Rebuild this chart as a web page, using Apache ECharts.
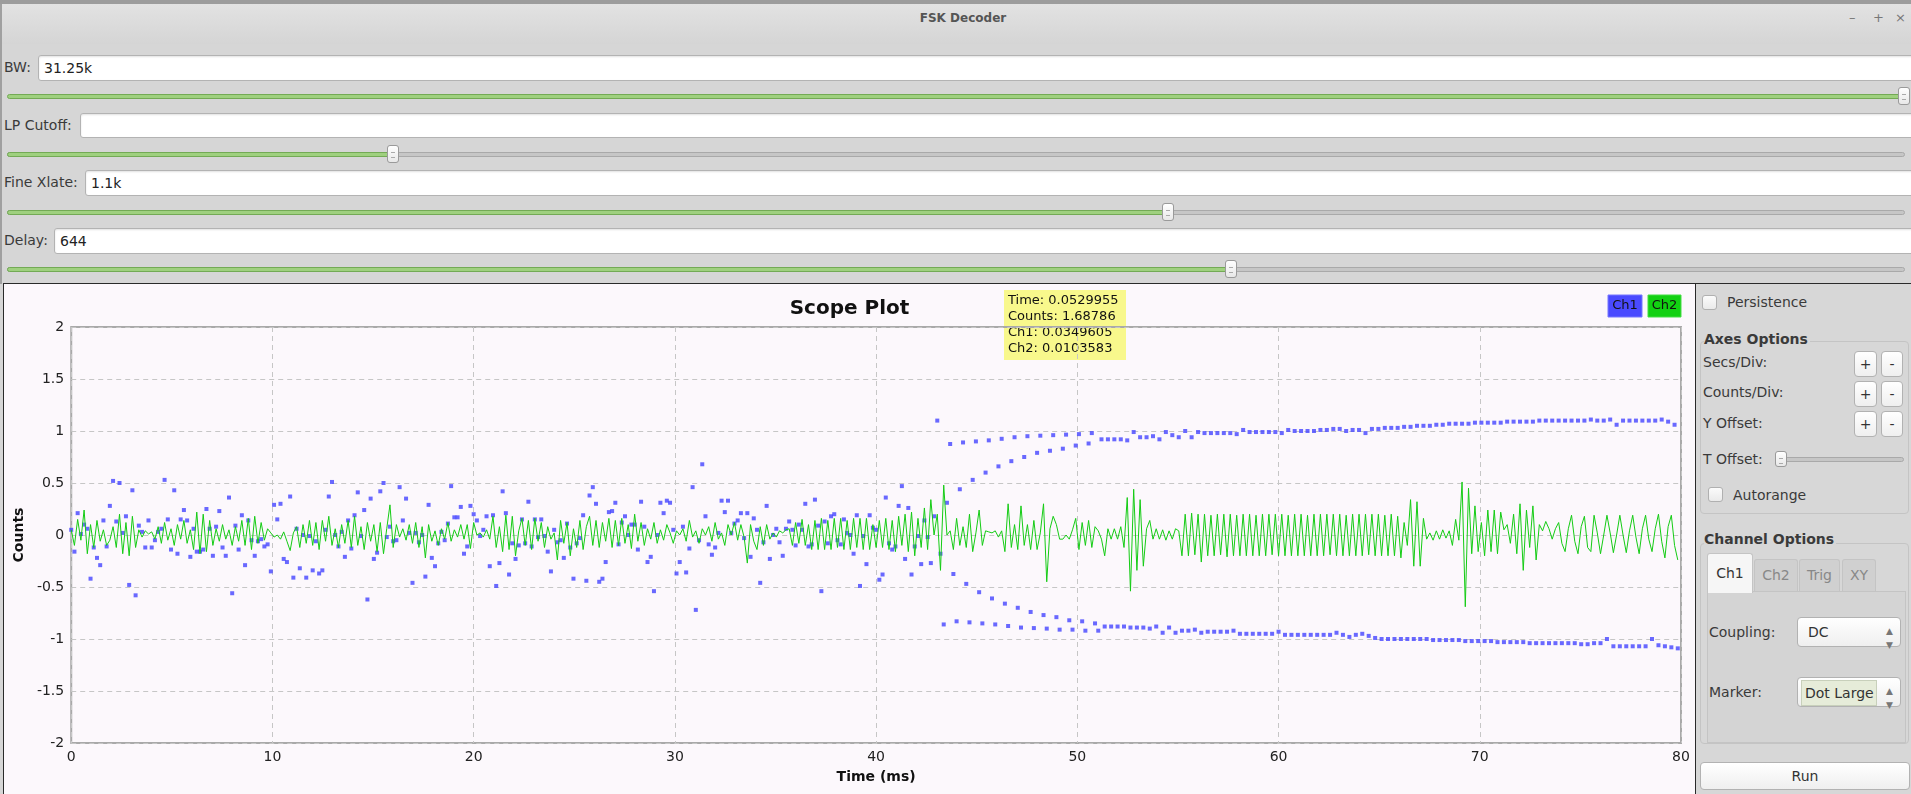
<!DOCTYPE html>
<html>
<head>
<meta charset="utf-8">
<script src="https://cdn.jsdelivr.net/npm/echarts@6/dist/echarts.min.js"></script>
<style>
html,body{margin:0;padding:0}
body{width:1911px;height:794px;overflow:hidden;position:relative;background:#d6d6d6;font-family:"DejaVu Sans",sans-serif;color:#3a3a3a}
.a{position:absolute}
.lbl{position:absolute;font-size:14px;line-height:16px;white-space:nowrap;color:#3a3a3a}
.box{position:absolute;background:#fff;border:1px solid #b3b3b3;border-radius:3px;box-shadow:inset 0 1px 2px rgba(0,0,0,.12);box-sizing:border-box;font-size:14px;color:#222;padding-left:5px;white-space:nowrap}
.trk{position:absolute;height:5px;border-radius:3px;box-sizing:border-box}
.tg{background:#9fd07f;border:1px solid #73aa55}
.tr{background:#c6c6c6;border:1px solid #a9a9a9}
.hdl{position:absolute;width:12px;height:18px;box-sizing:border-box;border:1px solid #9a9a9a;border-radius:3px;background:linear-gradient(#ffffff,#e8e8e8)}
.hdl:after{content:"";position:absolute;left:3px;top:6px;width:4px;height:4px;border-top:1px solid #aaa;border-bottom:1px solid #aaa}
.btn{position:absolute;box-sizing:border-box;border:1px solid #b2b2b2;border-radius:4px;background:linear-gradient(#ffffff,#efefef);font-size:14px;color:#333;text-align:center}
.chk{position:absolute;width:15px;height:15px;box-sizing:border-box;border:1px solid #b0b0b0;border-radius:3px;background:linear-gradient(#fbfbfb,#eaeaea)}
.grp{position:absolute;box-sizing:border-box;border:1px solid #c4c4c4;border-radius:4px}
.tab{position:absolute;box-sizing:border-box;border:1px solid #c4c4c4;border-bottom:none;border-radius:3px 3px 0 0;font-size:14px;text-align:center;color:#888;background:#d0d0d0}
</style>
</head>
<body>
<!-- window title bar -->
<div class="a" style="left:0;top:0;width:1911px;height:4px;background:#9c9c9c"></div>
<div class="a" style="left:0;top:4px;width:1911px;height:40px;background:linear-gradient(#e2e2e2,#d5d5d5)"></div>
<div class="lbl" style="left:0;width:1926px;top:10px;text-align:center;font-size:12px;font-weight:bold;color:#555">FSK Decoder</div>
<div class="lbl" style="left:1849px;top:10px;font-size:13px;color:#777">–</div>
<div class="lbl" style="left:1873px;top:10px;font-size:13px;color:#777">+</div>
<div class="lbl" style="left:1895px;top:10px;font-size:13px;color:#777">×</div>
<div class="a" style="left:0;top:4px;width:2px;height:280px;background:#a0a0a0"></div>

<!-- parameter rows -->
<div class="lbl" style="left:4px;top:59px">BW:</div>
<div class="box" style="left:38px;top:55px;width:1880px;height:26px;line-height:24px">31.25k</div>
<div class="trk tg" style="left:7px;top:94px;width:1898px"></div>
<div class="hdl" style="left:1898px;top:87px"></div>

<div class="lbl" style="left:4px;top:117px">LP Cutoff:</div>
<div class="box" style="left:80px;top:113px;width:1840px;height:25px;line-height:23px"></div>
<div class="trk tr" style="left:7px;top:152px;width:1898px"></div>
<div class="trk tg" style="left:7px;top:152px;width:388px"></div>
<div class="hdl" style="left:387px;top:145px"></div>

<div class="lbl" style="left:4px;top:174px">Fine Xlate:</div>
<div class="box" style="left:85px;top:170px;width:1840px;height:26px;line-height:24px">1.1k</div>
<div class="trk tr" style="left:7px;top:210px;width:1898px"></div>
<div class="trk tg" style="left:7px;top:210px;width:1163px"></div>
<div class="hdl" style="left:1162px;top:203px"></div>

<div class="lbl" style="left:4px;top:232px">Delay:</div>
<div class="box" style="left:54px;top:228px;width:1870px;height:26px;line-height:24px">644</div>
<div class="trk tr" style="left:7px;top:267px;width:1898px"></div>
<div class="trk tg" style="left:7px;top:267px;width:1226px"></div>
<div class="hdl" style="left:1225px;top:260px"></div>

<!-- plot widget -->
<div class="a" style="left:3px;top:283px;width:1693px;height:520px;box-sizing:border-box;border:1px solid #2a2a2a;background:#fcf8fc"></div>
<div id="chart" class="a" style="left:4px;top:285px;width:1691px;height:509px"></div>

<!-- right control panel -->
<div class="a" style="left:1696px;top:283px;width:215px;height:511px;background:#d7d7d7;border-top:1px solid #2a2a2a"></div>
<div class="chk" style="left:1702px;top:295px"></div>
<div class="lbl" style="left:1727px;top:294px">Persistence</div>

<div class="grp" style="left:1700px;top:341px;width:209px;height:173px"></div>
<div class="lbl" style="left:1704px;top:331px;font-weight:bold;background:#d7d7d7;padding-right:2px">Axes Options</div>
<div class="lbl" style="left:1703px;top:354px">Secs/Div:</div>
<div class="btn" style="left:1854px;top:351px;width:23px;height:26px;line-height:24px">+</div>
<div class="btn" style="left:1881px;top:351px;width:22px;height:26px;line-height:24px">-</div>
<div class="lbl" style="left:1703px;top:384px">Counts/Div:</div>
<div class="btn" style="left:1854px;top:381px;width:23px;height:26px;line-height:24px">+</div>
<div class="btn" style="left:1881px;top:381px;width:22px;height:26px;line-height:24px">-</div>
<div class="lbl" style="left:1703px;top:415px">Y Offset:</div>
<div class="btn" style="left:1854px;top:411px;width:23px;height:26px;line-height:24px">+</div>
<div class="btn" style="left:1881px;top:411px;width:22px;height:26px;line-height:24px">-</div>
<div class="lbl" style="left:1703px;top:451px">T Offset:</div>
<div class="trk tr" style="left:1776px;top:457px;width:128px;height:5px"></div>
<div class="hdl" style="left:1775px;top:451px;width:12px;height:16px"></div>
<div class="chk" style="left:1708px;top:487px"></div>
<div class="lbl" style="left:1733px;top:487px">Autorange</div>

<div class="grp" style="left:1700px;top:543px;width:209px;height:201px"></div>
<div class="lbl" style="left:1704px;top:531px;font-weight:bold;background:#d7d7d7;padding-right:2px">Channel Options</div>
<div class="a" style="left:1707px;top:591px;width:199px;height:152px;box-sizing:border-box;border:1px solid #c4c4c4;background:#d4d4d4"></div>
<div class="tab" style="left:1707px;top:553px;width:46px;height:40px;line-height:38px;background:#f6f6f6;color:#333;z-index:2">Ch1</div>
<div class="tab" style="left:1754px;top:559px;width:44px;height:32px;line-height:30px">Ch2</div>
<div class="tab" style="left:1799px;top:559px;width:41px;height:32px;line-height:30px">Trig</div>
<div class="tab" style="left:1842px;top:559px;width:34px;height:32px;line-height:30px">XY</div>
<div class="lbl" style="left:1709px;top:624px">Coupling:</div>
<div class="btn" style="left:1797px;top:617px;width:104px;height:30px;line-height:28px;text-align:left;padding-left:10px">DC<span class="a" style="left:88px;font-size:9px;line-height:14px;color:#777;top:6px">▲<br>▼</span></div>
<div class="lbl" style="left:1709px;top:684px">Marker:</div>
<div class="btn" style="left:1797px;top:677px;width:104px;height:30px;line-height:28px;text-align:left;padding-left:3px"><span style="display:inline-block;background:#e6ecd9;border:1px solid #c8d0bb;line-height:24px;padding:0 3px;width:68px;overflow:hidden;white-space:nowrap;vertical-align:middle">Dot Large</span><span class="a" style="left:88px;font-size:9px;line-height:14px;color:#777;top:6px">▲<br>▼</span></div>
<div class="btn" style="left:1700px;top:762px;width:210px;height:28px;line-height:26px">Run</div>

<script>
// ---------------- data ----------------
const plotTitle = 'Scope Plot';
const xAxisName = 'Time (ms)';
const yAxisName = 'Counts';
const timeRange = [0, 80];      // ms
const timeStep = 10;
const countRange = [-2, 2];
const countStep = 0.5;
const SAMPLE_MS = 0.16;         // sample period of both channels (ms)
const channelNames = ['Ch1', 'Ch2'];
const cursorInfo = ['Time: 0.0529955', 'Counts: 1.68786', 'Ch1: 0.0349605', 'Ch2: 0.0103583'];

// Ch1 (blue dots), one value per sample
const ch1Counts = [
  0.05,-0.16,0.21,0.01,0.10,0.06,-0.42,-0.12,-0.22,-0.29,
  0.14,-0.11,0.28,0.52,0.13,0.50,0.02,0.18,-0.48,0.43,
  -0.58,0.09,0.03,-0.12,0.14,-0.12,-0.05,0.03,0.06,0.53,
  0.15,-0.14,0.43,-0.18,0.15,0.24,0.14,-0.21,0.06,-0.16,
  -0.16,-0.14,0.25,0.06,-0.20,0.08,0.23,-0.12,-0.20,0.36,
  -0.56,0.09,-0.14,0.19,-0.29,0.14,-0.05,-0.20,-0.06,-0.04,
  -0.11,-0.09,-0.35,0.29,0.15,0.30,-0.23,-0.26,0.37,-0.41,
  0.06,-0.32,0.00,-0.41,-0.01,-0.34,-0.06,-0.37,-0.34,0.05,
  0.37,0.51,0.00,-0.11,0.03,-0.21,0.14,-0.13,0.19,0.41,
  -0.01,0.24,-0.62,0.35,-0.23,-0.17,0.42,0.50,-0.02,0.08,
  -0.06,-0.05,0.46,0.14,0.35,0.02,-0.46,0.02,-0.07,0.00,
  -0.40,0.29,-0.22,-0.30,-0.08,0.03,-0.05,0.11,0.47,0.17,
  0.17,0.27,-0.18,-0.11,0.28,0.20,0.14,-0.01,0.05,0.18,
  -0.30,0.19,-0.49,-0.27,0.42,0.21,-0.38,-0.08,-0.23,-0.10,
  0.15,-0.08,0.32,-0.11,0.15,-0.02,0.15,-0.01,-0.16,-0.35,
  0.05,-0.07,-0.05,-0.22,0.11,-0.12,-0.42,-0.08,-0.03,0.19,
  -0.44,0.38,0.46,0.30,-0.45,-0.42,-0.26,0.22,0.23,0.31,
  -0.09,0.12,0.18,0.00,0.10,0.10,-0.14,0.32,0.08,-0.26,
  -0.21,-0.54,0.00,0.31,0.21,0.33,0.31,0.05,-0.37,-0.26,
  0.08,-0.36,-0.13,0.46,-0.72,-0.05,0.68,0.18,-0.09,-0.19,
  -0.12,0.02,0.33,0.22,0.33,0.02,0.11,0.14,0.21,-0.03,
  0.21,-0.21,0.16,0.05,-0.46,-0.07,0.28,-0.23,0.00,0.06,
  -0.07,-0.20,0.06,0.13,0.05,-0.10,0.10,0.05,0.30,-0.11,
  -0.09,0.34,0.09,-0.54,0.13,-0.08,0.18,0.20,-0.05,-0.09,
  0.15,0.02,0.00,-0.18,0.19,-0.49,-0.01,-0.28,0.19,0.07,
  0.05,-0.43,-0.38,0.36,-0.08,-0.14,-0.11,0.28,0.47,-0.23,
  0.26,-0.38,-0.11,-0.01,-0.28,0.14,-0.02,-0.27,0.18,1.10,
  -0.18,-0.86,0.31,0.875,-0.375,-0.83,0.44,0.89,-0.47,-0.84,
  0.53,0.90,-0.55,-0.85,0.60,0.91,-0.61,-0.86,0.66,0.925,
  -0.66,-0.875,0.71,0.94,-0.70,-0.89,0.75,0.95,-0.74,-0.895,
  0.79,0.955,-0.77,-0.90,0.81,0.96,-0.79,-0.91,0.83,0.965,
  -0.82,-0.91,0.86,0.97,-0.83,-0.92,0.88,0.98,-0.85,-0.92,
  0.92,-0.88,0.92,-0.88,0.92,-0.88,0.92,-0.88,0.91,-0.89,0.99,-0.89,0.94,-0.89,0.94,-0.90,0.95,-0.88,0.92,-0.94,
  0.99,-0.89,0.96,-0.94,0.94,-0.92,1.00,-0.92,0.94,-0.91,0.99,-0.94,0.98,-0.93,0.98,-0.93,0.98,-0.93,0.98,-0.93,
  0.98,-0.92,0.97,-0.95,1.01,-0.95,0.99,-0.95,0.99,-0.95,0.99,-0.95,0.99,-0.95,0.99,-0.93,0.98,-0.96,1.01,-0.96,
  1.00,-0.96,1.00,-0.96,1.00,-0.96,1.00,-0.96,1.01,-0.96,1.01,-0.96,1.02,-0.94,1.02,-0.96,1.00,-0.98,1.01,-0.96,
  1.01,-0.95,0.98,-0.97,1.02,-0.99,1.02,-1.00,1.03,-1.00,1.03,-1.00,1.03,-1.00,1.04,-1.00,1.04,-1.00,1.05,-1.00,
  1.05,-1.00,1.05,-1.01,1.06,-1.01,1.06,-1.01,1.07,-1.01,1.07,-1.01,1.07,-1.02,1.07,-1.02,1.08,-1.02,1.08,-1.02,
  1.08,-1.02,1.08,-1.03,1.08,-1.03,1.09,-1.03,1.09,-1.03,1.09,-1.03,1.09,-1.04,1.09,-1.04,1.10,-1.04,1.10,-1.04,
  1.10,-1.04,1.10,-1.04,1.10,-1.04,1.10,-1.04,1.10,-1.05,1.10,-1.05,1.11,-1.04,1.10,-1.04,1.10,-1.00,1.11,-1.07,
  1.06,-1.07,1.10,-1.07,1.10,-1.07,1.10,-1.07,1.10,-1.07,1.10,-1.00,1.10,-1.06,1.11,-1.07,1.09,-1.08,1.06,-1.09
];

// Ch2 (green line), one value per sample
const ch2Counts = [
  0.05,-0.10,0.15,-0.05,0.24,-0.18,0.10,-0.12,0.14,-0.06,
  0.05,-0.10,-0.05,0.08,-0.12,0.20,-0.18,0.12,-0.20,0.18,
  -0.12,0.05,-0.02,0.04,0.01,0.03,-0.04,0.08,-0.08,0.12,
  -0.05,0.06,-0.10,0.10,-0.04,0.14,-0.08,0.05,-0.14,0.22,
  -0.18,0.20,-0.16,0.14,-0.10,0.06,-0.06,0.10,-0.04,0.05,
  -0.10,0.08,-0.06,0.14,-0.10,0.16,-0.14,0.18,-0.08,0.12,
  -0.05,0.06,0.02,-0.02,0.00,-0.04,0.03,-0.06,-0.15,0.02,
  0.08,-0.12,0.10,-0.08,0.14,-0.10,0.12,-0.14,0.14,-0.06,
  0.18,-0.10,0.06,-0.12,0.10,-0.08,0.14,-0.12,0.18,-0.10,
  0.08,-0.14,0.12,-0.06,0.10,-0.16,0.12,-0.18,0.06,0.29,
  -0.12,0.10,-0.02,0.06,-0.05,0.10,-0.08,0.12,-0.12,0.08,
  -0.22,0.10,-0.06,0.04,-0.10,0.06,-0.04,0.12,-0.06,0.05,
  -0.02,0.10,-0.04,0.10,-0.13,0.12,0.00,0.02,-0.02,0.05,
  -0.04,0.18,-0.12,0.08,-0.16,0.19,-0.14,0.18,-0.20,0.04,
  0.16,-0.10,0.14,-0.14,0.16,-0.06,0.12,-0.12,0.08,-0.04,
  0.02,-0.24,0.14,-0.08,0.12,-0.20,0.06,-0.12,0.14,-0.14,
  0.08,0.18,-0.10,0.14,-0.12,0.12,-0.06,0.16,-0.12,0.14,
  -0.10,0.16,-0.08,0.10,-0.13,0.20,-0.06,0.12,-0.10,0.06,
  -0.04,0.12,-0.08,0.05,-0.05,0.10,0.02,-0.08,0.04,0.00,
  0.06,-0.06,0.14,-0.02,0.04,-0.08,0.06,0.00,0.08,-0.06,
  0.12,-0.04,0.02,-0.10,0.10,0.00,0.12,-0.05,0.10,-0.02,
  -0.27,0.10,-0.06,-0.14,0.08,-0.10,0.10,-0.04,0.02,-0.02,
  0.04,0.02,0.05,0.06,-0.10,0.12,-0.08,0.15,-0.10,0.10,
  -0.14,0.14,-0.14,0.16,-0.14,0.14,-0.14,0.16,-0.12,0.16,
  -0.14,0.14,-0.14,0.16,-0.12,0.16,-0.14,0.16,-0.14,0.10,
  -0.12,0.14,-0.12,0.16,-0.14,0.14,-0.16,0.18,-0.10,0.20,
  -0.16,0.22,-0.20,0.16,-0.12,0.26,-0.14,0.34,0.00,0.20,
  -0.34,0.48,0.00,0.04,-0.14,0.16,-0.10,0.08,-0.12,0.20,
  -0.16,0.02,0.24,-0.10,0.04,0.03,0.02,0.04,-0.02,0.04,
  -0.16,0.30,-0.12,0.10,-0.14,0.28,-0.10,0.10,-0.14,0.14,
  -0.14,0.02,0.30,-0.45,0.06,0.18,0.10,-0.04,-0.04,0.00,
  -0.04,0.05,0.16,-0.14,0.12,-0.10,0.14,-0.12,0.08,0.04,
  -0.04,-0.20,0.06,-0.04,0.06,-0.04,0.08,-0.12,0.36,-0.54,
  0.44,-0.34,0.34,-0.30,0.06,0.14,-0.04,0.06,-0.04,0.05,
  -0.05,0.04,-0.04,0.06,0.04,-0.20,0.20,-0.20,0.21,-0.19,
  0.20,-0.26,0.20,-0.20,0.19,-0.20,0.20,-0.19,0.20,-0.21,
  0.20,-0.20,0.19,-0.20,0.20,-0.20,0.20,-0.20,0.19,-0.20,
  0.20,-0.20,0.20,-0.19,0.20,-0.20,0.20,-0.20,0.19,-0.20,
  0.20,-0.20,0.20,-0.20,0.19,-0.20,0.20,-0.20,0.20,-0.20,
  0.20,-0.19,0.20,-0.20,0.20,-0.20,0.19,-0.20,0.20,-0.20,
  0.20,-0.20,0.20,-0.19,0.20,-0.20,0.20,-0.20,0.19,-0.20,
  0.20,-0.20,0.18,-0.22,0.12,-0.10,0.34,-0.30,0.32,-0.30,
  0.16,-0.04,0.02,-0.05,0.04,-0.04,0.05,-0.03,0.04,-0.10,
  0.15,-0.05,0.51,-0.69,0.45,-0.18,0.28,-0.16,0.12,-0.20,
  0.24,-0.16,0.24,-0.18,0.22,0.05,0.10,-0.08,0.20,-0.18,
  0.30,-0.34,0.24,-0.12,0.28,-0.24,0.10,0.04,0.13,0.06,
  -0.04,0.06,0.12,-0.08,-0.16,0.06,0.19,-0.06,-0.18,0.08,
  0.18,-0.12,-0.16,0.19,0.02,-0.18,0.00,0.19,0.02,-0.17,
  0.00,0.19,0.00,-0.17,0.04,0.19,-0.02,-0.18,0.06,0.19,
  -0.04,-0.16,0.06,0.20,-0.06,-0.22,0.08,0.19,-0.10,-0.24
];

// ---------------- chart ----------------
const FONT = 'DejaVu Sans';
const ch1Data = ch1Counts.map((v, i) => [+(i * SAMPLE_MS).toFixed(2), v]);
const ch2Data = ch2Counts.map((v, i) => [+(i * SAMPLE_MS).toFixed(2), v]);
const chColors = ['#4444ff', '#14cc14'];

const chart = echarts.init(document.getElementById('chart'), null, { renderer: 'canvas' });
const infoTexts = cursorInfo.map((t, k) => ({
  type: 'text', x: 1004, y: 16 + k * 15.8, z: -5,
  style: { text: t, font: '13px "' + FONT + '"', fill: '#111', verticalAlign: 'middle' }
}));
chart.setOption({
  animation: false,
  backgroundColor: '#fcf8fc',
  title: {
    text: plotTitle, left: 'center', top: 9,
    textStyle: { fontFamily: FONT, fontWeight: 'bold', fontSize: 20, color: '#111' }
  },
  grid: { left: 64.5, right: 14, top: 42, bottom: 51, show: true, borderColor: '#a9a9a9', borderWidth: 2, backgroundColor: 'transparent' },
  xAxis: {
    type: 'value', min: timeRange[0], max: timeRange[1], interval: timeStep,
    name: xAxisName, nameLocation: 'middle', nameGap: 27,
    nameTextStyle: { fontFamily: FONT, fontWeight: 'bold', fontSize: 14, color: '#111' },
    axisLine: { show: false }, axisTick: { show: false },
    axisLabel: { fontFamily: FONT, fontSize: 14, color: '#222', margin: 7 },
    splitLine: { show: true, lineStyle: { color: '#c6c6c6', width: 1, type: [5, 4] } }
  },
  yAxis: {
    type: 'value', min: countRange[0], max: countRange[1], interval: countStep,
    name: yAxisName, nameLocation: 'middle', nameGap: 42, nameRotate: 90,
    nameTextStyle: { fontFamily: FONT, fontWeight: 'bold', fontSize: 14, color: '#111' },
    axisLine: { show: false }, axisTick: { show: false },
    axisLabel: { fontFamily: FONT, fontSize: 14, color: '#222', margin: 7 },
    splitLine: { show: true, lineStyle: { color: '#c6c6c6', width: 1, type: [5, 4] } }
  },
  series: [
    { name: channelNames[0], type: 'scatter', data: ch1Data, symbol: 'rect', symbolSize: 4,
      itemStyle: { color: chColors[0] }, z: 2, silent: true },
    { name: channelNames[1], type: 'line', data: ch2Data, showSymbol: false, symbol: 'none',
      lineStyle: { color: chColors[1], width: 1 }, z: 3, silent: true }
  ],
  graphic: [
    { type: 'rect', z: -6, shape: { x: 1000, y: 5, width: 122, height: 70 }, style: { fill: '#f8f88c' } },
    ...infoTexts,
    { type: 'rect', shape: { x: 1604, y: 10, width: 34, height: 22 }, style: { fill: '#4a4aff', stroke: '#7777ff' } },
    { type: 'text', x: 1621, y: 21, style: { text: channelNames[0], font: '13px "' + FONT + '"', fill: '#111', align: 'center', verticalAlign: 'middle' } },
    { type: 'rect', shape: { x: 1644, y: 10, width: 33, height: 22 }, style: { fill: '#12d012', stroke: '#44dd44' } },
    { type: 'text', x: 1660.5, y: 21, style: { text: channelNames[1], font: '13px "' + FONT + '"', fill: '#111', align: 'center', verticalAlign: 'middle' } }
  ]
});
</script>
</body>
</html>
